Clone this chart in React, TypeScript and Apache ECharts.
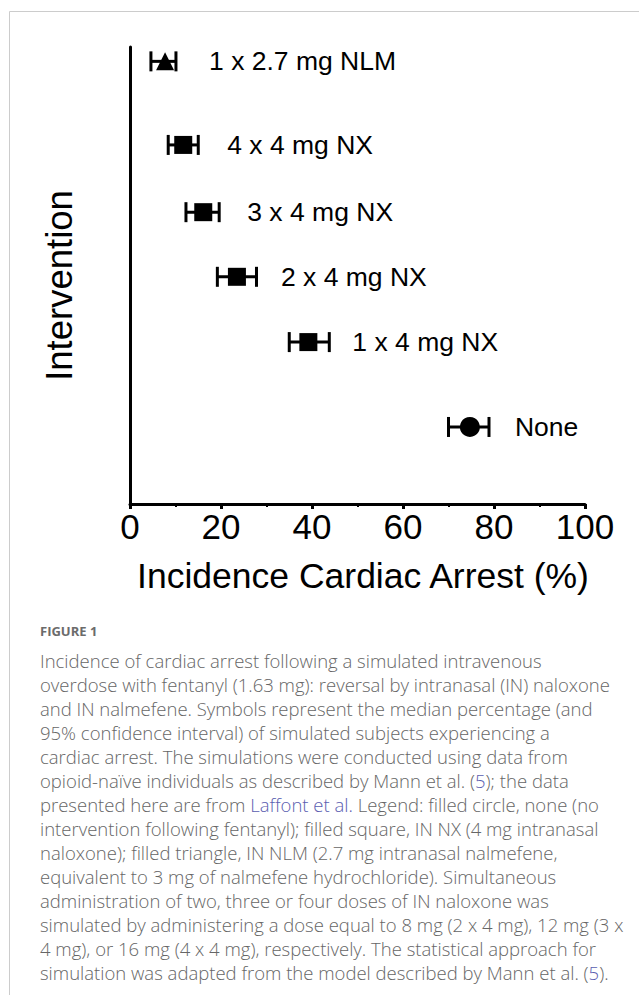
import React, { useEffect, useRef } from "react";
import * as echarts from "echarts";

// ---- data ----
const categories = ["None", "1 x 4 mg NX", "2 x 4 mg NX", "3 x 4 mg NX", "4 x 4 mg NX", "1 x 2.7 mg NLM"];
const medians = [74.7, 39.2, 23.5, 16.1, 11.7, 7.7];
const lowerCI = [70.0, 35.0, 19.2, 12.3, 8.4, 4.6];
const upperCI = [78.9, 43.8, 27.8, 19.6, 15.0, 10.1];
const rowPositions = [1.18, 2.48, 3.48, 4.47, 5.5, 6.78];
const symbols = ["circle", "rect", "rect", "rect", "rect", "triangle"];
const xTickValues = [0, 20, 40, 60, 80, 100];

const xAxisTitle = "Incidence Cardiac Arrest (%)";
const yAxisTitle = "Intervention";
const figureLabel = "FIGURE 1";
const captionLines: string[][] = [
  ["Incidence of cardiac arrest following a simulated intravenous"],
  ["overdose with fentanyl (1.63 mg): reversal by intranasal (IN) naloxone"],
  ["and IN nalmefene. Symbols represent the median percentage (and"],
  ["95% confidence interval) of simulated subjects experiencing a"],
  ["cardiac arrest. The simulations were conducted using data from"],
  ["opioid-naïve individuals as described by Mann et al. (", "#5", "); the data"],
  ["presented here are from ", "#Laffont et al.", " Legend: filled circle, none (no"],
  ["intervention following fentanyl); filled square, IN NX (4 mg intranasal"],
  ["naloxone); filled triangle, IN NLM (2.7 mg intranasal nalmefene,"],
  ["equivalent to 3 mg of nalmefene hydrochloride). Simultaneous"],
  ["administration of two, three or four doses of IN naloxone was"],
  ["simulated by administering a dose equal to 8 mg (2 x 4 mg), 12 mg (3 x"],
  ["4 mg), or 16 mg (4 x 4 mg), respectively. The statistical approach for"],
  ["simulation was adapted from the model described by Mann et al. (", "#5", ")."],
];

const FONT = "'Liberation Sans', Arial, Helvetica, sans-serif";
const CAP_FONT = "'Open Sans', Lato, sans-serif";

export default function App() {
  const ref = useRef<HTMLDivElement>(null);

  useEffect(() => {
    if (!ref.current) return;
    const chart = echarts.init(ref.current, undefined, { renderer: "svg" });

    const captionRich = captionLines
      .map((parts) =>
        parts
          .map((p) => (p.startsWith("#") ? `{link|${p.slice(1)}}` : `{t|${p}}`))
          .join("")
      )
      .join("\n");

    const scatterData = medians.map((m, i) => ({
      value: [m, rowPositions[i]],
      symbol: symbols[i],
      symbolSize: symbols[i] === "circle" ? 20 : 18,
      name: categories[i],
    }));

    const errData = lowerCI.map((lo, i) => [lo, upperCI[i], rowPositions[i]]);

    const capStyle = { fontFamily: CAP_FONT, fontSize: 18.5, fontWeight: 300, lineHeight: 24 };

    const option: any = {
      animation: false,
      backgroundColor: "#ffffff",
      grid: { left: 130, right: 54, top: 47, bottom: 491, containLabel: false },
      xAxis: {
        type: "value",
        min: 0,
        max: 100,
        interval: 20,
        name: xAxisTitle,
        nameLocation: "middle",
        nameGap: 54,
        nameTextStyle: { fontFamily: FONT, fontSize: 35.5, color: "#000", padding: [0, 0, 0, 11] },
        axisLine: { show: true, onZero: false, lineStyle: { color: "#000", width: 3 } },
        axisTick: { show: true, length: 5, lineStyle: { color: "#000", width: 3 } },
        minorTick: { show: true, splitNumber: 2, length: 3, lineStyle: { color: "#000", width: 2 } },
        splitLine: { show: false },
        axisLabel: {
          margin: 5,
          fontFamily: FONT,
          fontSize: 35,
          color: "#000",
          formatter: (v: number) => (xTickValues.includes(v) ? String(v) : ""),
        },
      },
      yAxis: {
        type: "value",
        min: 0,
        max: 7,
        name: yAxisTitle,
        nameLocation: "middle",
        nameRotate: 90,
        nameGap: 52,
        nameTextStyle: { fontFamily: FONT, fontSize: 36.5, color: "#000", padding: [0, 0, 0, -20] },
        axisLine: { show: true, onZero: false, lineStyle: { color: "#000", width: 3 } },
        axisTick: { show: false },
        axisLabel: { show: false },
        splitLine: { show: false },
      },
      series: [
        {
          type: "custom",
          z: 1,
          encode: { x: [0, 1], y: 2 },
          data: errData,
          renderItem: (params: any, api: any) => {
            const y = api.value(2);
            const a = api.coord([api.value(0), y]);
            const b = api.coord([api.value(1), y]);
            const h = 10;
            const st = { stroke: "#000", lineWidth: 3 };
            return {
              type: "group",
              children: [
                { type: "line", shape: { x1: a[0], y1: a[1], x2: b[0], y2: b[1] }, style: st },
                { type: "line", shape: { x1: a[0], y1: a[1] - h, x2: a[0], y2: a[1] + h }, style: st },
                { type: "line", shape: { x1: b[0], y1: b[1] - h, x2: b[0], y2: b[1] + h }, style: st },
              ],
            };
          },
        },
        {
          type: "scatter",
          z: 3,
          data: scatterData,
          itemStyle: { color: "#000", opacity: 1 },
          label: {
            show: true,
            position: "right",
            distance: 35,
            formatter: (p: any) => p.name,
            fontFamily: FONT,
            fontSize: 26.5,
            color: "#000",
          },
        },
      ],
      graphic: [
        { type: "line", shape: { x1: 9.5, y1: 11.5, x2: 639, y2: 11.5 }, style: { stroke: "#cccccc", lineWidth: 1 } },
        { type: "line", shape: { x1: 9.5, y1: 11.5, x2: 9.5, y2: 995 }, style: { stroke: "#cccccc", lineWidth: 1 } },
        {
          type: "text",
          left: 40,
          top: 624,
          style: { text: figureLabel, fontFamily: CAP_FONT, fontSize: 13, fontWeight: "bold", fill: "#6b6b6b" },
        },
        {
          type: "text",
          left: 40,
          top: 648,
          style: {
            text: captionRich,
            ...capStyle,
            fill: "#666666",
            rich: {
              t: { ...capStyle, fill: "#666666" },
              link: { ...capStyle, fill: "#5a5db0" },
            },
          },
        },
      ],
    };

    chart.setOption(option);
    return () => chart.dispose();
  }, []);

  return (
    <div
      ref={ref}
      style={{ position: "fixed", left: 0, top: 0, width: 639, height: 995, background: "#fff" }}
    />
  );
}
